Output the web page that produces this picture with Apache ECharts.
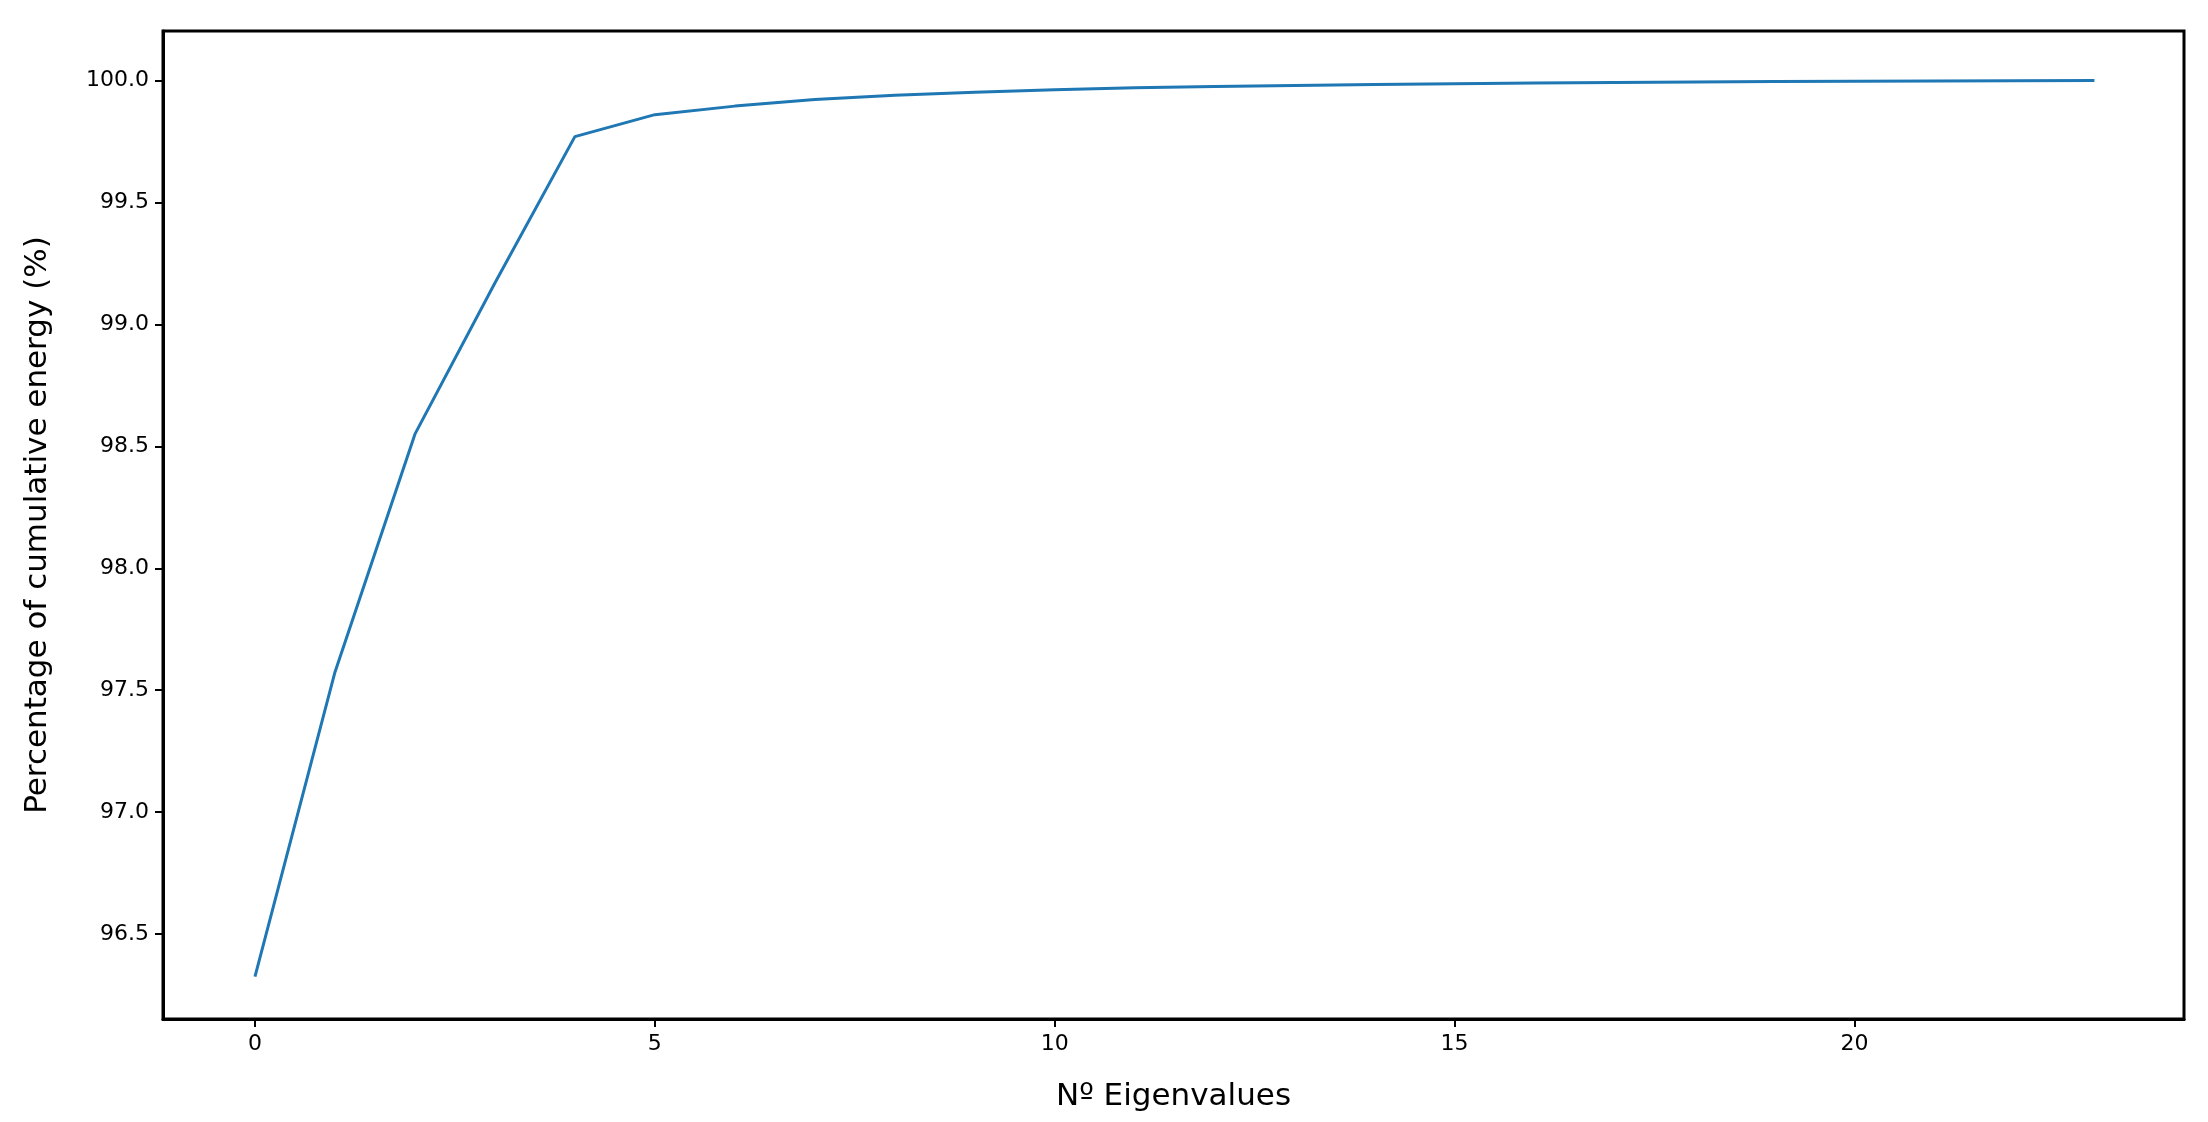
<!DOCTYPE html>
<html>
<head>
<meta charset="utf-8">
<script src="https://cdn.jsdelivr.net/npm/echarts@6/dist/echarts.min.js"></script>
<style>html,body{margin:0;padding:0;background:#fff}#eCharts{width:2208px;height:1122px}</style>
</head>
<body>
<div id="eCharts"></div>
<script>
var myChart = echarts.init(document.getElementById('eCharts'));

// 累积能量百分比
var eigIndex = [0,1,2,3,4,5,6,7,8,9,10,11,12,13,14,15,16,17,18,19,20,21,22,23];
var energy = [96.326,97.574,98.55,99.17,99.77,99.86,99.895,99.922,99.94,99.952,99.962,99.97,99.975,99.98,99.984,99.987,99.99,99.992,99.994,99.996,99.997,99.998,99.999,100.0];
var xTicks = [0,5,10,15,20];
var yTicks = [96.5,97.0,97.5,98.0,98.5,99.0,99.5,100.0];

var font = 'DejaVu Sans';
var option = {
    animation: false,
    grid: {left: 163, right: 24, top: 31, bottom: 103},
    xAxis: {
        type: 'value',
        min: -1.15,
        max: 24.12,
        name: 'Nº Eigenvalues',
        nameLocation: 'middle',
        nameGap: 62,
        nameTextStyle: {fontFamily: font, fontSize: 31, color: '#000'},
        axisLine: {show: true, onZero: false, lineStyle: {color: '#000', width: 3}},
        axisTick: {show: true, customValues: xTicks, length: 8, lineStyle: {color: '#000', width: 2}},
        axisLabel: {customValues: xTicks, fontFamily: font, fontSize: 22, color: '#000', margin: 14},
        splitLine: {show: false}
    },
    yAxis: {
        type: 'value',
        min: 96.152,
        max: 100.203,
        name: 'Percentage of cumulative energy (%)',
        nameLocation: 'middle',
        nameGap: 110,
        nameTextStyle: {fontFamily: font, fontSize: 31, color: '#000'},
        axisLine: {show: true, onZero: false, lineStyle: {color: '#000', width: 3}},
        axisTick: {show: true, customValues: yTicks, length: 8, lineStyle: {color: '#000', width: 2}},
        axisLabel: {customValues: yTicks, fontFamily: font, fontSize: 22, color: '#000', margin: 14,
            formatter: function (v) { return v.toFixed(1); }},
        splitLine: {show: false}
    },
    series: [{
        type: 'line',
        data: eigIndex.map(function (x, i) { return [x, energy[i]]; }),
        showSymbol: false,
        lineStyle: {color: '#1f77b4', width: 3}
    }],
    graphic: [{
        type: 'rect',
        shape: {x: 163, y: 31, width: 2208 - 163 - 24, height: 1122 - 31 - 103},
        style: {fill: 'none', stroke: '#000', lineWidth: 3},
        silent: true
    }]
};
myChart.setOption(option);
</script>
</body>
</html>
